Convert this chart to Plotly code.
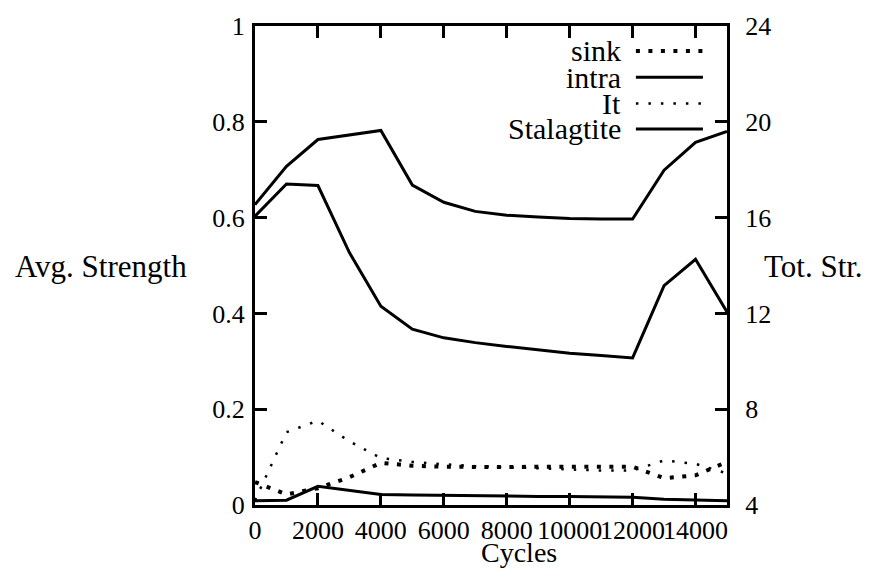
import plotly.graph_objects as go

cycles = [0, 1000, 2000, 3000, 4000, 5000, 6000, 7000, 8000, 9000, 10000, 11000, 12000, 13000, 14000, 15000]

# Avg. Strength (left axis)
sink = [0.048, 0.022, 0.035, 0.058, 0.088, 0.082, 0.080, 0.079, 0.079, 0.080, 0.080, 0.081, 0.080, 0.056, 0.062, 0.090]
intra = [0.009, 0.010, 0.039, 0.031, 0.022, 0.021, 0.020, 0.019, 0.019, 0.018, 0.018, 0.017, 0.016, 0.012, 0.010, 0.009]
it = [0.010, 0.152, 0.176, 0.133, 0.098, 0.090, 0.085, 0.081, 0.079, 0.077, 0.075, 0.072, 0.072, 0.093, 0.086, 0.066]
middle = [0.603, 0.670, 0.667, 0.527, 0.415, 0.367, 0.349, 0.339, 0.331, 0.324, 0.317, 0.312, 0.307, 0.458, 0.513, 0.403]

# Tot. Str. (right axis)
stalagtite = [16.54, 18.14, 19.26, 19.46, 19.64, 17.36, 16.64, 16.26, 16.10, 16.02, 15.96, 15.94, 15.94, 17.98, 19.14, 19.60]

x_ticks = [0, 2000, 4000, 6000, 8000, 10000, 12000, 14000]
y_ticks = [0, 0.2, 0.4, 0.6, 0.8, 1]
y_ticklabels = ["0", "0.2", "0.4", "0.6", "0.8", "1"]
y2_ticks = [4, 8, 12, 16, 20, 24]

FONT = "Times New Roman"
SINK_DASH = "4px,8.5px"
IT_DASH = "2.5px,10px"

fig = go.Figure()
fig.add_trace(go.Scatter(x=cycles, y=sink, mode="lines", name="sink",
                         line=dict(color="black", width=4, dash=SINK_DASH), showlegend=False))
fig.add_trace(go.Scatter(x=cycles, y=intra, mode="lines", name="intra",
                         line=dict(color="black", width=3), showlegend=False))
fig.add_trace(go.Scatter(x=cycles, y=it, mode="lines", name="It",
                         line=dict(color="black", width=2.5, dash=IT_DASH), showlegend=False))
fig.add_trace(go.Scatter(x=cycles, y=middle, mode="lines", name="intra total",
                         line=dict(color="black", width=3), showlegend=False))
fig.add_trace(go.Scatter(x=cycles, y=stalagtite, mode="lines", name="Stalagtite", yaxis="y2",
                         line=dict(color="black", width=3), showlegend=False))

axis_common = dict(showline=True, linecolor="black", linewidth=3, ticks="inside",
                   ticklen=12, tickwidth=3, tickcolor="black", showgrid=False,
                   zeroline=False, tickfont=dict(size=26, color="black"))

fig.update_layout(
    width=872, height=569,
    margin=dict(l=255, r=145, t=21, b=64),
    paper_bgcolor="white", plot_bgcolor="white",
    showlegend=False,
    font=dict(family=FONT, color="black", size=26),
    xaxis=dict(range=[0, 15000], tickvals=x_ticks, ticktext=[str(v) for v in x_ticks],
               tickangle=0, mirror="ticks", ticklabelstandoff=0, **axis_common),
    yaxis=dict(range=[0, 1], tickvals=y_ticks, ticktext=y_ticklabels,
               mirror="ticks", ticklabelstandoff=2, **axis_common),
    yaxis2=dict(range=[4, 24], tickvals=y2_ticks, ticktext=[str(v) for v in y2_ticks],
                overlaying="y", side="right", ticklabelstandoff=10, **axis_common),
)

# Axis titles (horizontal, as in the reference)
fig.add_annotation(text="Avg. Strength", xref="paper", yref="paper", x=-0.326, y=0.498,
                   xanchor="center", yanchor="middle", showarrow=False,
                   font=dict(size=31, color="black"))
fig.add_annotation(text="Tot. Str.", xref="paper", yref="paper", x=1.184, y=0.498,
                   xanchor="center", yanchor="middle", showarrow=False,
                   font=dict(size=31, color="black"))
fig.add_annotation(text="Cycles", xref="paper", yref="paper", x=0.56, y=-0.099,
                   xanchor="center", yanchor="middle", showarrow=False,
                   font=dict(size=28, color="black"))

# Custom legend: text right-aligned, sample line to the right
legend_names = ["sink", "intra", "It", "Stalagtite"]
legend_styles = [dict(width=4, dash=SINK_DASH), dict(width=3, dash="solid"),
                 dict(width=2.5, dash=IT_DASH), dict(width=3, dash="solid")]
legend_y = [0.948, 0.893, 0.838, 0.785]
for name, style, ly in zip(legend_names, legend_styles, legend_y):
    fig.add_annotation(text=name, xref="paper", yref="paper", x=0.78, y=ly,
                       xanchor="right", yanchor="middle", showarrow=False,
                       font=dict(size=30, color="black"))
    fig.add_shape(type="line", xref="paper", yref="paper", x0=0.807, x1=0.949, y0=ly, y1=ly,
                  line=dict(color="black", **style))

fig.write_html("out.html")
